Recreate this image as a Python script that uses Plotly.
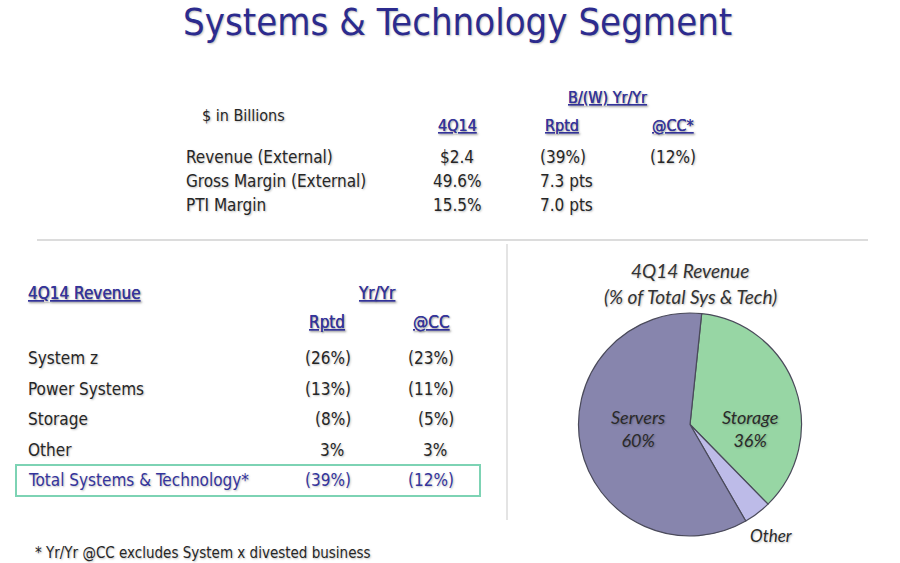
import plotly.graph_objects as go

# Slide text / data
title_text = "Systems & Technology Segment"

top_rows = ["Revenue (External)", "Gross Margin (External)", "PTI Margin"]
top_q = ["$2.4", "49.6%", "15.5%"]
top_rptd = ["(39%)", "7.3 pts", "7.0 pts"]
top_cc = ["(12%)", "", ""]

seg_rows = ["System z", "Power Systems", "Storage", "Other", "Total Systems & Technology*"]
seg_rptd = ["(26%)", "(13%)", "(8%)", "3%", "(39%)"]
seg_cc = ["(23%)", "(11%)", "(5%)", "3%", "(12%)"]

pie_labels = ["Storage", "Other", "Servers"]
pie_values = [36, 4, 60]
pie_colors = ["#97d6a4", "#bdbbe8", "#8785ad"]

footnote = "* Yr/Yr @CC excludes System x divested business"

W, H = 900, 563
FONT = "DejaVu Sans Condensed, Liberation Sans Narrow, Liberation Sans, sans-serif"
PIE_FONT = "Lato, Open Sans, sans-serif"
DARK = "#262626"
BLUE = "#34349c"
SHADOW = "1px 1px 2px rgba(0,0,0,0.25)"


def px(x):
    return x / W


def py(y):
    return 1 - y / H


fig = go.Figure()

fig.add_trace(go.Pie(
    labels=pie_labels, values=pie_values, sort=False,
    direction="clockwise", rotation=6,
    marker=dict(colors=pie_colors, line=dict(color="#4a4a5a", width=1.2)),
    textinfo="none",
    domain=dict(x=[px(577), px(803)], y=[py(536), py(313)]),
    showlegend=False, hoverinfo="label+percent",
))

ann = []


def txt(x, y, s, size=17, color=DARK, anchor="left", family=FONT, style="normal", **kw):
    ann.append(dict(x=px(x), y=py(y), xref="paper", yref="paper", text=s,
                    showarrow=False, xanchor=anchor, yanchor="middle",
                    font=dict(family=family, size=size, color=color, shadow=SHADOW,
                              style=style), **kw))


# title
txt(457, 22, title_text, size=38, color="#2c2b8e", anchor="center")

# top table
txt(200, 115, "$ in Billions", size=16)
txt(607, 97, "<u>B/(W) Yr/Yr</u>", size=16, color=BLUE, anchor="center")
txt(457, 125, "<u>4Q14</u>", size=16, color=BLUE, anchor="center")
txt(562, 125, "<u>Rptd</u>", size=16, color=BLUE, anchor="center")
txt(673, 125, "<u>@CC*</u>", size=16, color=BLUE, anchor="center")
for i, r in enumerate(top_rows):
    y = 157 + 24 * i
    txt(184, y, r)
    txt(457, y, top_q[i], anchor="center")
    txt(538, y, top_rptd[i])
    if top_cc[i]:
        txt(673, y, top_cc[i], anchor="center")

# segment table
txt(26, 293, "<u>4Q14 Revenue</u>", color=BLUE)
txt(377, 293, "<u>Yr/Yr</u>", color=BLUE, anchor="center")
txt(327, 322, "<u>Rptd</u>", color=BLUE, anchor="center")
txt(431, 322, "<u>@CC</u>", color=BLUE, anchor="center")
for i, r in enumerate(seg_rows):
    y = 358 + 30.5 * i
    c = BLUE if i == len(seg_rows) - 1 else DARK
    txt(26, y, r, color=c)
    for xr, v in ((353, seg_rptd[i]), (456, seg_cc[i])):
        # closing parens hang past the number column
        shift = 0 if v.endswith(")") else -7
        txt(xr, y, v, color=c, anchor="right", xshift=shift)

# pie titles and slice labels
txt(690, 271, "4Q14 Revenue", size=19, color="#333333", anchor="center",
    family=PIE_FONT, style="italic")
txt(690, 296, "(% of Total Sys & Tech)", size=19, color="#333333", anchor="center",
    family=PIE_FONT, style="italic")
label_pos = {"Storage": (750, 428), "Servers": (638, 428), "Other": (771, 535)}
for lab, val in zip(pie_labels, pie_values):
    s = lab if lab == "Other" else f"{lab}<br>{val}%"
    lx, ly = label_pos[lab]
    txt(lx, ly, s, size=18 if lab != "Other" else 17, color="#2a2a2a", anchor="center",
        family=PIE_FONT, style="italic")

txt(33, 553, footnote, size=15)

shapes = [
    dict(type="line", xref="paper", yref="paper", x0=px(37), x1=px(868), y0=py(240), y1=py(240),
         line=dict(color="#dcdcdc", width=2)),
    dict(type="line", xref="paper", yref="paper", x0=px(507), x1=px(507), y0=py(244), y1=py(520),
         line=dict(color="#e4e4e4", width=2)),
    dict(type="rect", xref="paper", yref="paper", x0=px(16), x1=px(480), y0=py(465), y1=py(496),
         line=dict(color="#7dd3b4", width=2)),
]

fig.update_layout(
    width=W, height=H, margin=dict(l=0, r=0, t=0, b=0),
    paper_bgcolor="white", plot_bgcolor="white",
    annotations=ann, shapes=shapes,
)

# drop the browser's default body margin so the slide fills the window
fig.write_html("out.html", config={"displayModeBar": False},
               post_script="document.body.style.margin='0';")
